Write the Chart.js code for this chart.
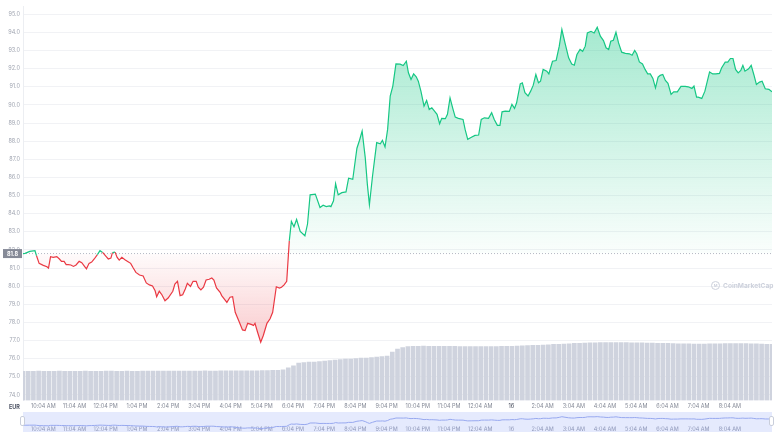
<!DOCTYPE html>
<html>
<head>
<meta charset="utf-8">
<script src="https://cdn.jsdelivr.net/npm/chart.js@4.4.1/dist/chart.umd.min.js"></script>
<style>
  body { margin: 0; background: #fff; width: 780px; height: 439px; overflow: hidden; position: relative; font-family: Inter, "DejaVu Sans", sans-serif; }
  #mainWrap { position: absolute; left: 0; top: 0; width: 780px; height: 413px; }
  #navWrap { position: absolute; left: 23px; top: 412px; width: 749px; height: 20px; background: #e5eafd; }
  #eur { position: absolute; left: 9px; top: 404px; font-size: 5.5px; font-weight: 700; color: #4d5364; }
  #wm { position: absolute; left: 711px; top: 281px; font-size: 6.6px; font-weight: 700; color: #cdd1dc; display: flex; align-items: center; }
  #wm span.logo { width: 7px; height: 7px; border: 1px solid #cdd1dc; border-radius: 50%; margin-right: 3px; font-size: 4px; line-height: 7px; text-align: center; }
  .handle { position: absolute; top: 416px; width: 3px; height: 8px; background: #fff; border: 1px solid #c9cedb; border-radius: 2px; }
</style>
</head>
<body>
<div id="mainWrap"><canvas id="chart"></canvas></div>
<div id="navWrap"><canvas id="nav"></canvas></div>
<div class="handle" style="left:20px"></div>
<div class="handle" style="left:769px"></div>
<div id="eur">EUR</div>
<div id="wm"><span class="logo">M</span>CoinMarketCap</div>
<script>
// price data: minutes since 9:25 AM, price in EUR
const times = [0,4,13,23,26,31,39,46,49,53,58,65,70,74,79,83,87,92,97,102,108,113,119,122,127,132,137,143,148,153,160,164,169,172,177,181,185,190,196,202,207,212,217,224,231,237,243,249,254,257,262,267,273,279,288,292,297,302,307,312,316,322,327,333,337,342,347,352,358,363,367,372,379,382,392,398,403,408,416,422,427,432,440,443,446,451,457,462,469,475,480,487,493,497,502,507,512,516,521,526,533,542,547,552,562,571,577,583,589,592,597,601,606,613,621,626,634,642,647,652,658,662,666,672,680,687,691,696,701,706,711,717,725,731,737,741,746,751,756,760,765,771,776,781,786,790,796,801,805,812,816,821,826,831,837,846,850,855,863,869,876,881,887,895,901,906,912,917,921,927,935,940,945,949,956,960,965,971,976,981,986,991,995,1000,1007,1011,1018,1025,1031,1036,1042,1049,1055,1060,1065,1071,1076,1081,1085,1092,1098,1104,1110,1116,1121,1126,1130,1135,1140,1145,1151,1158,1166,1171,1176,1180,1185,1191,1196,1201,1206,1211,1216,1221,1225,1230,1235,1240,1246,1251,1258,1265,1273,1279,1286,1290,1295,1298,1305,1311,1320,1326,1332,1339,1343,1350,1355,1360,1365,1370,1375,1380,1384,1388,1395,1400,1405,1410,1416,1421,1427,1434,1440];
const prices = [81.80,81.81,81.92,81.96,81.68,81.26,81.15,81.07,81.00,81.63,81.59,81.63,81.50,81.37,81.37,81.19,81.19,81.17,81.09,81.17,81.37,81.30,81.07,80.96,81.26,81.33,81.50,81.74,81.96,81.86,81.63,81.50,81.55,81.85,81.88,81.59,81.44,81.59,81.46,81.35,81.26,81.00,80.76,80.62,80.56,80.18,80.07,80.01,79.75,79.42,79.72,79.53,79.20,79.35,79.72,80.12,80.27,79.48,79.53,79.85,80.16,79.99,80.27,80.27,79.94,79.79,79.94,80.34,80.38,80.45,80.34,79.90,79.66,79.48,79.11,79.39,79.42,78.56,78.01,77.59,77.55,77.95,77.88,77.83,77.95,77.46,76.91,77.28,77.95,78.20,78.56,79.97,79.90,79.94,80.07,80.27,82.51,83.57,83.28,83.68,83.02,82.78,83.43,85.04,85.08,84.34,84.47,84.39,84.43,84.39,84.71,85.66,85.04,85.16,85.20,85.96,85.90,87.61,88.05,88.56,87.09,85.63,84.49,86.08,87.92,87.86,88.05,87.68,88.65,90.49,91.04,92.26,92.25,92.17,92.41,91.77,91.40,91.71,91.55,91.31,90.76,89.94,90.25,89.75,89.84,89.70,89.48,88.96,89.26,89.24,89.48,90.39,89.84,89.33,89.26,89.20,88.65,88.10,88.23,88.32,88.34,89.20,89.29,89.26,89.57,89.20,88.87,88.87,89.62,89.66,89.64,90.03,89.81,90.12,91.16,91.22,90.67,90.49,90.76,91.09,91.68,91.22,91.31,91.96,91.86,91.71,92.41,92.45,93.24,94.16,93.42,92.60,92.26,92.19,92.78,93.06,92.96,93.24,93.97,94.06,93.97,94.28,93.79,93.55,93.15,93.06,93.51,93.57,94.01,93.42,92.91,92.84,92.82,92.74,93.00,92.82,92.37,92.26,91.96,91.71,91.71,91.46,90.94,91.53,91.63,91.68,91.35,91.19,90.58,90.72,90.72,91.02,91.02,91.00,90.91,91.04,90.43,90.43,90.36,90.76,91.82,91.71,91.71,91.74,92.04,92.36,92.36,92.56,92.56,91.96,91.77,91.90,92.18,91.86,91.99,92.18,91.68,91.13,91.26,91.31,90.89,90.86,90.72];

// volume every 10 minutes
const volumes = [2.95,2.96,2.95,2.97,2.96,2.95,2.96,2.97,2.96,2.95,2.96,2.96,2.97,2.96,2.95,2.96,2.97,2.97,2.96,2.96,2.97,2.96,2.96,2.97,2.97,
  2.97,2.97,2.98,2.97,2.97,2.98,2.98,2.97,2.98,2.98,2.99,2.98,2.98,2.99,2.99,2.99,3.0,3.0,3.0,3.01,3.01,3.02,3.03,3.04,3.06,
  3.1,3.3,3.5,
  3.8,3.85,3.9,3.9,3.95,4.0,4.05,4.1,4.15,4.2,4.2,4.25,4.3,4.3,4.35,4.4,4.45,4.5,
  4.9,5.2,5.35,5.45,
  5.5,5.5,5.52,5.5,5.48,5.5,5.5,5.5,5.48,5.47,5.47,5.46,5.46,5.45,5.46,5.46,5.47,5.48,5.5,5.5,5.52,5.55,5.56,5.58,5.6,5.62,
  5.65,5.68,5.7,5.72,5.75,5.78,5.8,5.82,5.84,5.85,
  5.86,5.86,5.87,5.87,5.86,5.86,5.85,5.85,5.84,5.83,
  5.82,5.8,5.8,5.78,5.76,5.75,5.74,5.73,5.72,5.72,5.72,5.73,5.74,5.75,5.76,5.76,5.77,5.77,5.76,5.75,5.74,5.72,5.7,5.68];
const volTimes = volumes.map((v, i) => i * 10);

const tickTimes = [39,99,159,219,279,339,399,459,519,579,639,699,759,819,879,939,999,1059,1119,1179,1239,1299,1359];
const tickLabels = ['10:04 AM','11:04 AM','12:04 PM','1:04 PM','2:04 PM','3:04 PM','4:04 PM','5:04 PM','6:04 PM','7:04 PM','8:04 PM','9:04 PM','10:04 PM','11:04 PM','12:04 AM','16','2:04 AM','3:04 AM','4:04 AM','5:04 AM','6:04 AM','7:04 AM','8:04 AM'];
const priceTicks = [74,75,76,77,78,79,80,81,82,83,84,85,86,87,88,89,90,91,92,93,94,95];

const base = prices[0];
const green = '#16c784';
const red = '#ea3943';
const font = 'Inter, "DejaVu Sans", sans-serif';

const pricePts = times.map((t, i) => ({ x: t, y: prices[i] }));
const volPts = volTimes.map((t, i) => ({ x: t, y: volumes[i] }));

// grey box with the opening price on the left axis
const baseLabel = {
  id: 'baseLabel',
  afterDraw(chart) {
    const c = chart.ctx;
    const y = chart.scales.y.getPixelForValue(base);
    c.save();
    c.fillStyle = '#858a97';
    c.fillRect(3, y - 4.5, 19, 9);
    c.fillStyle = '#fff';
    c.font = '700 5.5px ' + font;
    c.textAlign = 'center';
    c.textBaseline = 'middle';
    c.fillText(base.toFixed(1), 12.5, y + 0.5);
    c.restore();
  }
};

function xAxis(padding, color) {
  return {
    type: 'linear',
    min: 0,
    max: 1440,
    offset: false,
    afterBuildTicks: s => { s.ticks = tickTimes.map(v => ({ value: v })); },
    ticks: {
      autoSkip: false,
      maxRotation: 0,
      padding: padding,
      callback: (v, i) => tickLabels[i],
      font: { family: font, size: 5.5 },
      color: color
    },
    grid: { display: false, drawTicks: false },
    border: { display: false }
  };
}

const chart = new Chart(document.getElementById('chart'), {
  data: {
    datasets: [
      {
        type: 'line',
        data: pricePts,
        yAxisID: 'y',
        borderWidth: 1.2,
        pointRadius: 0,
        tension: 0,
        segment: {
          borderColor: c => ((c.p0.parsed.y + c.p1.parsed.y) / 2 >= base ? green : red)
        },
        fill: { target: { value: base }, above: 'rgba(22,199,132,0.2)', below: 'rgba(234,57,67,0.15)' },
        order: 0
      },
      {
        type: 'line',
        data: [{ x: 0, y: base }, { x: 1440, y: base }],
        yAxisID: 'y',
        borderColor: '#b5b9c4',
        borderWidth: 1,
        borderDash: [1, 2],
        pointRadius: 0,
        fill: false,
        order: 1
      },
      {
        type: 'bar',
        data: volPts,
        yAxisID: 'yv',
        backgroundColor: '#cfd3de',
        barThickness: 4,
        order: 2
      }
    ]
  },
  options: {
    responsive: true,
    maintainAspectRatio: false,
    animation: false,
    layout: { padding: { left: 0, right: 8, top: 5, bottom: 0 } },
    plugins: { legend: { display: false }, tooltip: { enabled: false } },
    scales: {
      x: xAxis(3, c => (tickLabels[c.index] === '16' ? '#3d4354' : '#858a97')),
      y: {
        min: 73.7,
        max: 95.44,
        afterBuildTicks: s => { s.ticks = priceTicks.map(v => ({ value: v })); },
        afterFit: s => { s.width = 23; },
        ticks: {
          padding: 3,
          callback: v => v.toFixed(1),
          font: { family: font, size: 5.5 },
          color: '#a0a5b1'
        },
        grid: { color: '#f1f2f5', drawTicks: false },
        border: { color: '#eceef2' }
      },
      yv: { display: false, min: 0, max: 40 }
    }
  },
  plugins: [baseLabel]
});

// gradient fills above / below the opening price
(function () {
  const c = chart.ctx;
  const area = chart.chartArea;
  const yb = chart.scales.y.getPixelForValue(base);
  const g = c.createLinearGradient(0, area.top, 0, yb);
  g.addColorStop(0, 'rgba(22,199,132,0.42)');
  g.addColorStop(1, 'rgba(22,199,132,0.02)');
  const r = c.createLinearGradient(0, yb, 0, chart.scales.y.getPixelForValue(77));
  r.addColorStop(0, 'rgba(234,57,67,0.02)');
  r.addColorStop(1, 'rgba(234,57,67,0.26)');
  chart.data.datasets[0].fill = { target: { value: base }, above: g, below: r };
  chart.update('none');
})();

// navigator strip
new Chart(document.getElementById('nav'), {
  type: 'line',
  data: {
    datasets: [{ data: pricePts, borderColor: '#97a8ef', borderWidth: 1, pointRadius: 0, fill: false }]
  },
  options: {
    responsive: true,
    maintainAspectRatio: false,
    animation: false,
    layout: { padding: 0 },
    plugins: { legend: { display: false }, tooltip: { enabled: false } },
    scales: {
      x: xAxis(-6, '#8d96b8'),
      y: { display: false, min: 72, max: 101 }
    }
  }
});
</script>
</body>
</html>
